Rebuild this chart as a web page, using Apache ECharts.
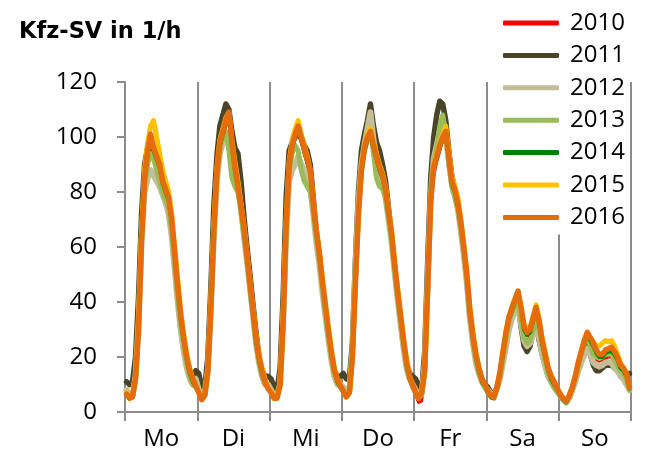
<!DOCTYPE html>
<html><head><meta charset="utf-8">
<script src="https://cdn.jsdelivr.net/npm/echarts@6/dist/echarts.min.js"></script>
<style>html,body{margin:0;padding:0;background:#fff}#c{width:646px;height:457px}</style>
</head><body><div id="c"></div>
<script>
const days = ['Mo','Di','Mi','Do','Fr','Sa','So'];
const years = ['2010','2011','2012','2013','2014','2015','2016'];
const yTicks = [0,20,40,60,80,100,120];
// hourly values, Mo 0h ... So 23h (168 per series)
const s2010 = [
 7,5.5,6,12,30,62,85,93,96,94,92,90,84,80,77,69,57,45,34,26,19,14,11,9,
 8,5,6,15,37,65,86,97,101,104,106,97,90,84,77,66,57,47,37,27,20,15,11,8.5,
 8,5.5,5.5,10,32,66,89,96,99,101,98,94,90,86,75,65,57,47,38,29,21,15,12,9,
 8,6,7,19,46,71,86,94,98,100,96,92,88,85,80,72,64,53,43,34,25,17,12,9,
 6,3.5,4,13,43,75,86,91,95,99,101,92,83,80,75,68,59,49,36,27,20,15,11,9,
 7,5,5,8.5,13,20,27,33,37,40,42,36,27,25,28,33,36,28,22,18,14,11,9,7,
 5.5,4.5,3.5,5.5,8.5,12,17,21,24,26,24,21,19,18.5,19,19.5,20,20,18,16,14,13,12,8.5];
const s2011 = [
 11,10,11,20,42,72,90,96,99,94,91,89,83,79,75,66,54,42,31,24,17,13,13,15,
 14,9,9,20,45,75,93,104,108,112,110,102,96,94,84,71,60,50,39,29,20,15,13,13,
 12,9,8,16,42,78,95,98,101,103,100,97,95,90,78,66,57,46,36,28,20,15,13,13,
 14,12,12,25,55,80,95,101,106,112,104,98,95,90,84,74,64,53,43,33,24,17,14,13,
 12,9,8,22,55,85,100,108,113,112,106,95,86,81,76,68,58,48,35,27,20,15,12,10,
 9,7,6.5,9,13,19,25,31,35,38,40,31,24,22,24,30,33,26,21,17,13,11,9,7.5,
 6,4.5,3.5,5,8,12,16,20,23,25,21,17,15,15,16,17,17,17,16,15,14,14,14,14];
const s2012 = [
 8,6,6,13,32,62,80,85,88,86,84,82,79,76,72,64,52,40,30,22,16,12,10,12,
 8,6,7,15,37,64,84,94,98,100,99,93,87,82,74,64,55,45,35,25,18,13,10,10,
 8,6,6,10,32,64,84,88,90,93,90,88,86,82,72,62,54,44,35,27,19,13,10,10,
 9,7,8,22,52,76,90,97,103,109,99,92,88,84,78,70,62,51,41,32,23,16,12,10,
 8,6,7,17,48,78,92,97,102,106,100,92,83,79,74,66,57,47,34,25,18,14,11,9,
 8,6.5,6,8.5,12,18,24,30,34,37,38,32,26,24,25,28,31,27,21,17,13,11,9,7.5,
 6,4.5,3.5,5,8,11,15,18,21,23,21,18,17,16.5,17,18,18,18,16,15,13,12,10,8];
const s2013 = [
 7,5,5.5,12,31,62,83,90,94,92,88,84,80,77,74,66,54,42,32,24,18,13,10,9,
 7.5,5,6,15,37,65,86,96,100,102,95,85,82,80,73,64,55,45,35,25,18,13,10,9,
 7.5,5,5.5,10,32,66,88,94,97,95,88,84,82,80,73,64,56,46,37,28,20,14,11,9,
 8,6,7,20,47,72,87,95,99,103,94,85,82,81,78,71,63,52,42,33,24,16,12,9,
 7,5,6,14,44,77,90,96,104,108,101,90,82,78,74,67,58,48,35,26,19,14,11,9,
 7,5.5,5,8.5,13,20,27,33,36,39,41,33,27,25,26,30,34,30,24,19,14,11,9,7.5,
 6,4.5,3.5,5.5,8.5,12,17,21,25,27,24,21,20,19.5,20,21,21,21,19,17,15,14,12,8];
const s2014 = [
 7,5,5.5,12,30,62,84,94,99,95,92,89,83,80,77,69,57,45,34,26,19,14,11,9,
 7,4.5,6,15,37,66,87,97,101,105,107,97,88,82,74,66,56,46,36,26,19,14,11,8.5,
 7,5,5,10,33,67,89,96,100,103,99,95,91,87,75,65,57,47,38,29,21,15,11,9,
 7.5,5.5,7,20,47,72,87,95,99,101,96,92,88,85,80,72,64,53,43,34,25,17,12,9.5,
 7,5,7,15,45,76,88,92,96,99,101,92,83,80,75,68,59,49,36,27,20,15,11,9.5,
 7,5.5,5,8.5,14,21,28,34,37,40,43,37,30,28,29,33,37,32,25,20,15,12,10,8,
 6,4.5,3.5,5.5,8.5,12.5,17.5,21.5,25,28,26,24,21.5,20,20,21.5,22,22,21,19,16,15,13,8.5];
const s2015 = [
 7,5.5,6,13,33,66,88,98,104,106,100,94,88,84,80,72,60,48,37,28,21,16,12,10,
 7.5,5,6,16,40,68,89,99,103,107,109,99,91,84,76,68,58,48,38,28,21,16,12,9,
 7.5,5,5.5,11,35,70,91,99,103,106,101,97,93,88,77,67,59,49,40,31,23,16,12,10,
 8,5.5,7,21,48,73,89,97,101,103,98,94,90,87,82,74,66,55,45,36,27,19,13,10,
 7.5,5,7,15,46,78,90,94,98,101,104,95,86,82,78,70,61,51,38,29,22,16,12,10,
 7.5,6,5.5,9,14.5,22,29,35,38,41,43,37,32,30,31,35,39,34,27,22,16,13,11,8.5,
 6.5,5,4,6,9,13,18,22,26,28,27,25.5,24,24,25,26,25.5,26,24,21,18,16,14,9];
const s2016 = [
 6.5,5,5.5,12,30,63,85,95,101,96,93,90,84,81,78,70,58,46,35,27,20,15,12,9.5,
 7,4.5,6,15,38,66,87,98,102,106,109,98,89,82,75,67,57,47,37,27,20,15,11,8.5,
 7,5,5,10,33,68,90,97,101,104,100,96,92,88,76,66,58,48,39,30,22,15,12,9.5,
 7.5,5.5,7,20,47,72,88,96,100,102,97,93,89,86,81,73,65,54,44,35,26,18,13,10,
 7,5,7,15,45,77,89,93,97,100,102,93,84,81,76,69,60,50,37,28,21,16,12,10,
 7.5,6,5.5,9,14.5,22,29,34.5,38,41,44,38,31,29,30,34,38,33,26,21,16,13,11,8.5,
 6.5,5,4,6,9,13,18,22,26,29,27,25,22.5,21,21,22.5,23,23.5,22,20,17,16,14,9];

const seriesData = [s2010,s2011,s2012,s2013,s2014,s2015,s2016];
const colors = ['#FF0000','#4A452A','#C4BD97','#9BBB59','#008000','#FFC000','#E46C0A'];
const widths = [3,5.5,6,5,4,5,5.5];

const chart = echarts.init(document.getElementById('c'));
const FONT = '"Open Sans", sans-serif';
chart.setOption({
  animation:false,
  backgroundColor:'#fff',
  title:{text:'Kfz-SV in 1/h', left:14, top:16,
    textStyle:{fontFamily:'"DejaVu Sans", sans-serif', fontWeight:'bold', fontSize:22.5, color:'#000'}},
  legend:{
    orient:'vertical', left:498, top:6, padding:[5,5,5,5],
    backgroundColor:'#fff', z:10,
    icon:'roundRect', itemWidth:56, itemHeight:5, itemGap:8.4,
    data:years,
    textStyle:{fontFamily:FONT, fontSize:24, color:'#000', padding:[0,0,0,6]}
  },
  grid:{left:125, right:15, top:82, bottom:45},
  xAxis:[{
    type:'value', min:0, max:168, interval:24,
    axisLine:{show:true, lineStyle:{color:'#8c8c8c', width:2}},
    axisTick:{show:true, length:9, lineStyle:{color:'#8c8c8c', width:2}},
    axisLabel:{show:false},
    splitLine:{show:true, lineStyle:{color:'#8c8c8c', width:2}}
  },{
    type:'category', data:days, boundaryGap:true, position:'bottom',
    axisLine:{show:false}, axisTick:{show:false}, splitLine:{show:false},
    axisLabel:{fontFamily:FONT, fontSize:24, color:'#000', margin:15}
  }],
  yAxis:{
    type:'value', min:0, max:120, interval:20,
    axisLine:{show:true, lineStyle:{color:'#8c8c8c', width:2}},
    axisTick:{show:true, length:8, lineStyle:{color:'#8c8c8c', width:2}},
    splitLine:{show:false},
    axisLabel:{fontFamily:FONT, fontSize:24, color:'#000', margin:28,
      formatter:v=>yTicks.indexOf(v)>=0?String(v):''}
  },
  series: years.map((y,k)=>({
    name:y, type:'line', xAxisIndex:0, showSymbol:false, symbol:'none',
    color:colors[k],
    lineStyle:{color:colors[k], width:widths[k], join:'round', cap:'round'},
    data: seriesData[k].map((v,i)=>[i+0.5, v]),
    z: 2+k
  }))
});
</script></body></html>
